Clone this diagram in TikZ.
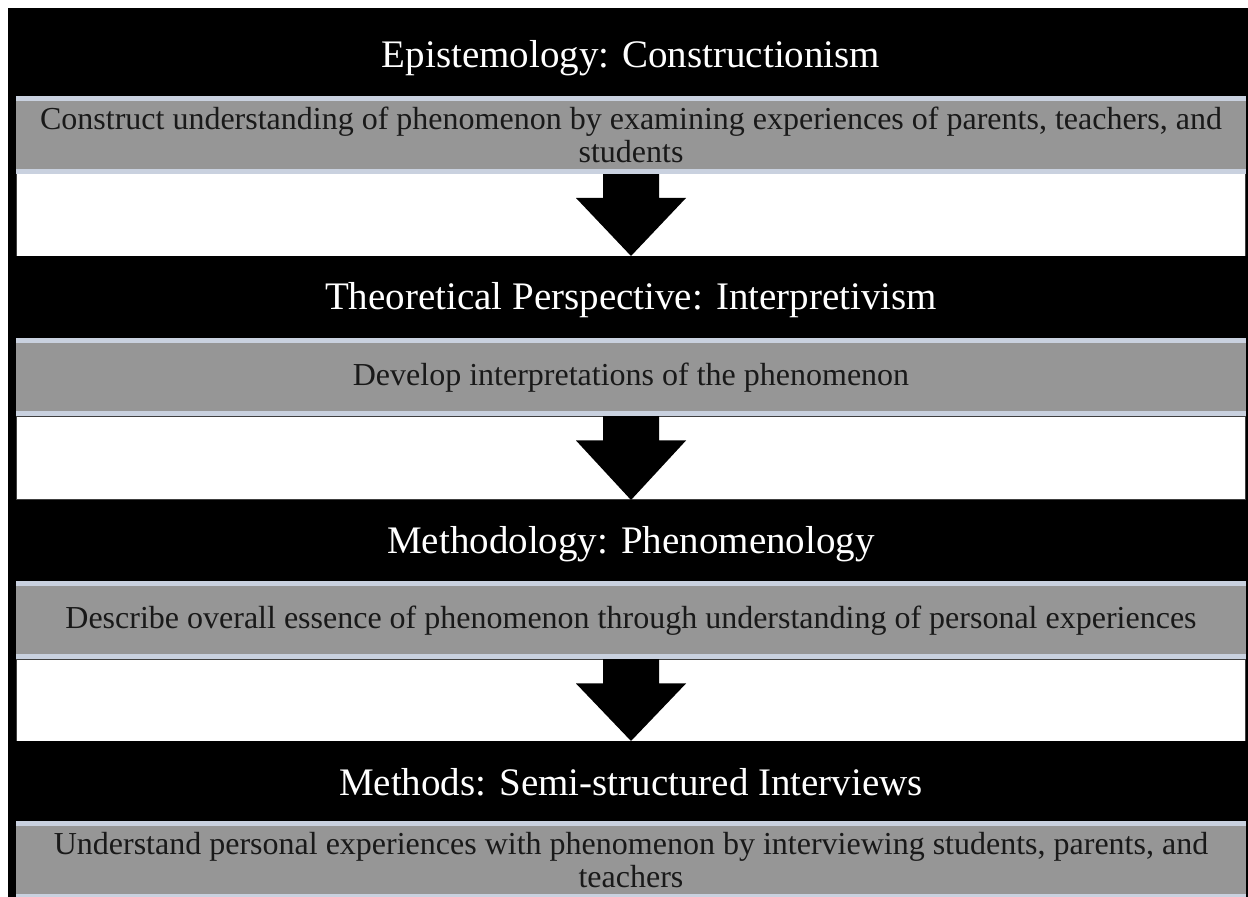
\documentclass[tikz,border=0pt]{standalone}
\usepackage{fontspec}
\setmainfont{Liberation Serif}
\usetikzlibrary{calc}

\newlength{\du}
\setlength{\du}{0.5\unitlength}

\definecolor{bandgray}{RGB}{150,150,150}
\definecolor{stripeblue}{RGB}{201,209,223}
\definecolor{gapline}{RGB}{64,64,64}

\tikzset{
  headband/.style={fill=black, text=white, minimum width=1230\du, minimum height=82\du,
    inner sep=0pt, outer sep=0pt, text height=27\du, text depth=1\du,
    font=\fontsize{19.5}{23}\selectfont},
  textband/.style={fill=bandgray, text=black!90, minimum width=1230\du, minimum height=73\du,
    inner sep=0pt, outer sep=0pt, align=center, font=\fontsize{16}{16.5}\selectfont},
  gapband/.style={fill=white, draw=gapline, line width=1\du, minimum width=1229\du,
    minimum height=83\du, inner sep=0pt, outer sep=0pt},
  stripe/.style={draw=stripeblue, line width=5\du},
  blockarrow/.style={fill=black},
}

\begin{document}
\begin{tikzpicture}[x=1\du, y=-1\du]
\useasboundingbox (0,0) rectangle (1248,897);
\fill[black] (8,8) rectangle (1248,897);
% white gaps
\node[gapband] (gapone) at (631,215.5) {};
\node[gapband] (gaptwo) at (631,458) {};
\node[gapband] (gapthree) at (631,701) {};
% setfont headers
\node[headband] (epistemology) at (631,55) {Epistemology: Constructionism};
\node[headband] (perspective) at (631,297) {Theoretical Perspective: Interpretivism};
\node[headband] (methodology) at (631,541) {Methodology: Phenomenology};
\node[headband] (methods) at (631,782) {Methods: Semi-structured Interviews};
% setfont notes
\node[textband] (constructtext) at (631,135) {Construct understanding of phenomenon by examining experiences of parents, teachers, and\\ students};
\node[textband] (developtext) at (631,377.5) {Develop interpretations of the phenomenon};
\node[textband] (describetext) at (631,620.5) {Describe overall essence of phenomenon through understanding of personal experiences};
\node[textband] (understandtext) at (631,860) {Understand personal experiences with phenomenon by interviewing students, parents, and\\ teachers};
% arrows
\fill[blockarrow] ($(constructtext.south)+(-28,0)$) -- ($(constructtext.south)+(28,0)$)
  -- ($(constructtext.south)+(28,26.5)$) -- ($(constructtext.south)+(55,26.5)$)
  -- (perspective.north) -- ($(constructtext.south)+(-55,26.5)$)
  -- ($(constructtext.south)+(-28,26.5)$) -- cycle;
\fill[blockarrow] ($(developtext.south)+(-28,0)$) -- ($(developtext.south)+(28,0)$)
  -- ($(developtext.south)+(28,26.5)$) -- ($(developtext.south)+(55,26.5)$)
  -- (methodology.north) -- ($(developtext.south)+(-55,26.5)$)
  -- ($(developtext.south)+(-28,26.5)$) -- cycle;
\fill[blockarrow] ($(describetext.south)+(-28,0)$) -- ($(describetext.south)+(28,0)$)
  -- ($(describetext.south)+(28,26.5)$) -- ($(describetext.south)+(55,26.5)$)
  -- (methods.north) -- ($(describetext.south)+(-55,26.5)$)
  -- ($(describetext.south)+(-28,26.5)$) -- cycle;
% stripes
\draw[stripe] (constructtext.north west) -- (constructtext.north east);
\draw[stripe] (constructtext.south west) -- (constructtext.south east);
\draw[stripe] (developtext.north west) -- (developtext.north east);
\draw[stripe] (developtext.south west) -- (developtext.south east);
\draw[stripe] (describetext.north west) -- (describetext.north east);
\draw[stripe] (describetext.south west) -- (describetext.south east);
\draw[stripe] (understandtext.north west) -- (understandtext.north east);
\draw[stripe] (understandtext.south west) -- (understandtext.south east);
\end{tikzpicture}
\end{document}
